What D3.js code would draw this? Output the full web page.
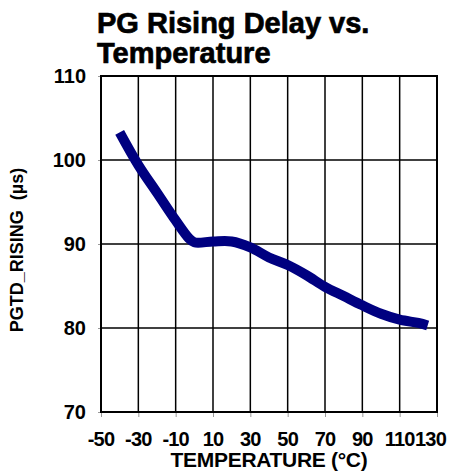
<!DOCTYPE html>
<html>
<head>
<meta charset="utf-8">
<script src="https://cdn.jsdelivr.net/npm/d3@7"></script>
<style>
  body { margin: 0; background: #fff; }
  text { font-family: "Liberation Sans", Arial, sans-serif; font-weight: bold; fill: #000; }
</style>
</head>
<body>
<div id="chart"></div>
<script>
// values
var temps = [-40, -30, -20, -10, -3, 0, 10, 20, 30, 40, 50, 60, 70, 80, 90, 100, 110, 120, 125]
var delays = [103.3, 99.4, 96.1, 92.8, 90.7, 90.2, 90.3, 90.3, 89.6, 88.4, 87.5, 86.3, 84.9, 83.8, 82.7, 81.7, 81.0, 80.6, 80.3]

var xTicks = [-50, -30, -10, 10, 30, 50, 70, 90, 110, 130]
var yTicks = [70, 80, 90, 100, 110]

var data = temps.map((t, i) => ({ temp: t, delay: delays[i] }))

const W = 449, H = 474
const margin = { top: 76, right: 12, bottom: 62, left: 101 }
const width = W - margin.left - margin.right
const height = H - margin.top - margin.bottom

const x = d3.scaleLinear().domain([-50, 130]).range([0, width])
const y = d3.scaleLinear().domain([70, 110]).range([height, 0])

var root = d3.select("#chart").append("svg")
    .attr("width", W)
    .attr("height", H)

var svg = root.append("g")
    .attr("transform", `translate(${margin.left},${margin.top})`)

// title
root.append("text")
    .attr("x", 97).attr("y", 33)
    .style("font-size", "29px")
    .attr("stroke", "#000").attr("stroke-width", 0.7)
    .text("PG Rising Delay vs.")
root.append("text")
    .attr("x", 97).attr("y", 63)
    .style("font-size", "29px")
    .attr("stroke", "#000").attr("stroke-width", 0.7)
    .text("Temperature")

// small gray tick marks outside the frame
svg.append("g")
    .attr("transform", `translate(0,${height})`)
    .call(d3.axisBottom(x).tickValues(xTicks).tickSize(5).tickFormat(""))
    .call(g => g.select(".domain").remove())
    .call(g => g.selectAll("line").attr("stroke", "#999"))

svg.append("g")
    .call(d3.axisLeft(y).tickValues(yTicks).tickSize(3).tickFormat(""))
    .call(g => g.select(".domain").remove())
    .call(g => g.selectAll("line").attr("stroke", "#999"))

// grid
svg.append("g")
    .selectAll("line")
    .data(xTicks)
    .enter().append("line")
    .attr("x1", d => x(d)).attr("x2", d => x(d))
    .attr("y1", 0).attr("y2", height)
    .attr("stroke", "#000")
    .attr("stroke-width", 1.5)

svg.append("g")
    .selectAll("line")
    .data(yTicks)
    .enter().append("line")
    .attr("x1", 0).attr("x2", width)
    .attr("y1", d => y(d)).attr("y2", d => y(d))
    .attr("stroke", "#000")
    .attr("stroke-width", 1.5)

svg.append("rect")
    .attr("width", width).attr("height", height)
    .attr("fill", "none")
    .attr("stroke", "#000")
    .attr("stroke-width", 2)

// tick labels
svg.append("g")
    .selectAll("text")
    .data(yTicks)
    .enter().append("text")
    .attr("x", -15)
    .attr("y", d => y(d))
    .attr("dy", "0.36em")
    .attr("text-anchor", "end")
    .style("font-size", "20px")
    .text(d => d)

svg.append("g")
    .selectAll("text")
    .data(xTicks)
    .enter().append("text")
    .attr("x", (d, i) => i === xTicks.length - 1 ? x(d) + 9 : x(d))
    .attr("y", height + 34)
    .attr("text-anchor", (d, i) => i === xTicks.length - 1 ? "end" : "middle")
    .style("font-size", "20px")
    .style("letter-spacing", "-0.8px")
    .text(d => d)

// axis titles
svg.append("text")
    .attr("x", width / 2)
    .attr("y", height + 55)
    .attr("text-anchor", "middle")
    .style("font-size", "21px")
    .style("letter-spacing", "-0.3px")
    .text("TEMPERATURE (°C)")

root.append("text")
    .attr("transform", `translate(23,250) rotate(-90)`)
    .attr("text-anchor", "middle")
    .style("font-size", "18px")
    .style("white-space", "pre")
    .text("PGTD_RISING  (µs)")

// curve
const line = d3.line()
    .x(d => x(d.temp))
    .y(d => y(d.delay))
    .curve(d3.curveCatmullRom)

svg.append("path")
    .datum(data)
    .attr("fill", "none")
    .attr("stroke", "#000080")
    .attr("stroke-width", 10)
    .attr("d", line)
</script>
</body>
</html>
